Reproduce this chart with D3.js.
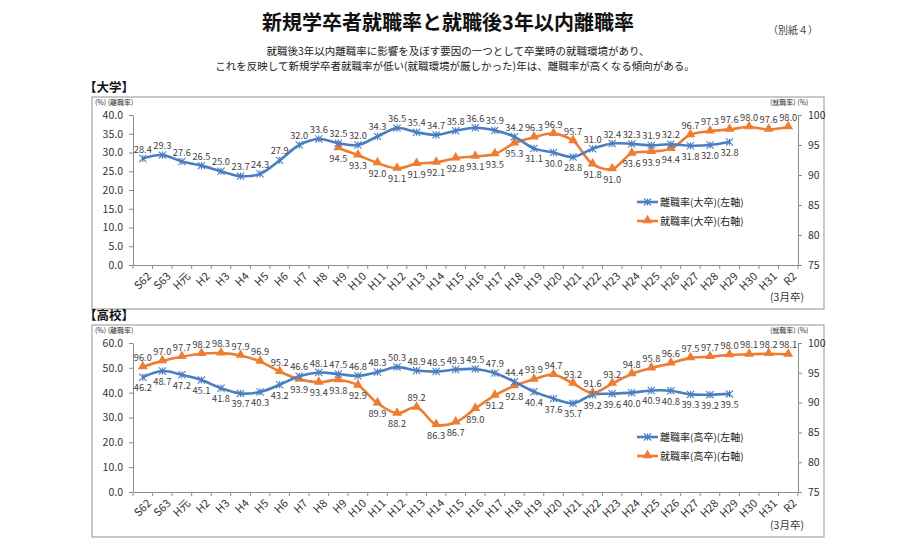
<!DOCTYPE html>
<html><head><meta charset="utf-8">
<script src="https://cdn.jsdelivr.net/npm/d3@7"></script>
<style>
body{margin:0;background:#fff;}
text{font-family:"Noto Sans CJK JP","Noto Sans",sans-serif;}
</style></head>
<body>
<svg id="c" width="907" height="544"></svg>
<script>
// ---- data ----
const categories = ["S62","S63","H元","H2","H3","H4","H5","H6","H7","H8","H9","H10","H11","H12","H13","H14","H15","H16","H17","H18","H19","H20","H21","H22","H23","H24","H25","H26","H27","H28","H29","H30","H31","R2"];
// 大学 離職率 (S62..H29)
const univLeave = [28.4,29.3,27.6,26.5,25.0,23.7,24.3,27.9,32.0,33.6,32.5,32.0,34.3,36.5,35.4,34.7,35.8,36.6,35.9,34.2,31.1,30.0,28.8,31.0,32.4,32.3,31.9,32.2,31.8,32.0,32.8];
// 大学 就職率 (H9..R2)
const univEmployStart = "H9";
const univEmploy = [94.5,93.3,92.0,91.1,91.9,92.1,92.8,93.1,93.5,95.3,96.3,96.9,95.7,91.8,91.0,93.6,93.9,94.4,96.7,97.3,97.6,98.0,97.6,98.0];
// 高校 離職率 (S62..H29)
const hsLeave = [46.2,48.7,47.2,45.1,41.8,39.7,40.3,43.2,46.6,48.1,47.5,46.8,48.3,50.3,48.9,48.5,49.3,49.5,47.9,44.4,40.4,37.6,35.7,39.2,39.6,40.0,40.9,40.8,39.3,39.2,39.5];
// 高校 就職率 (S62..R2)
const hsEmploy = [96.0,97.0,97.7,98.2,98.3,97.9,96.9,95.2,93.9,93.4,93.8,92.9,89.9,88.2,89.2,86.3,86.7,89.0,91.2,92.8,93.9,94.7,93.2,91.6,93.2,94.8,95.8,96.6,97.5,97.7,98.0,98.1,98.2,98.1];
const univLeftTicks = [0,5,10,15,20,25,30,35,40];
const hsLeftTicks = [0,10,20,30,40,50,60];
const rightTicks = [75,80,85,90,95,100];

// label placement (style): categories whose labels go below / above
const univLeaveBelow = ["H19","H20","H21","H27","H28","H29"];
const univEmployAbove = ["H19","H20","H21","H27","H28","H29","H30","H31","R2"];
const hsLeaveAbove = ["H7","H8","H9","H10","H11","H12","H13","H14","H15","H16","H17","H18"];
const hsEmployBelow = ["H7","H8","H9","H10","H11","H12","H14","H15","H16","H17","H18"];

const BLUE = "#4a7ec0", ORANGE = "#ed7d31";
const svg = d3.select("#c");

// header
svg.append("text").attr("x",448).attr("y",30).attr("text-anchor","middle")
  .attr("font-size",20).attr("font-weight",700).attr("fill","#111")
  .text("新規学卒者就職率と就職後3年以内離職率");
svg.append("text").attr("x",768).attr("y",34).attr("font-size",10).attr("fill","#444").text("（別紙４）");
svg.append("text").attr("x",458).attr("y",55).attr("text-anchor","middle").attr("font-size",10.5).attr("fill","#222")
  .text("就職後3年以内離職率に影響を及ぼす要因の一つとして卒業時の就職環境があり、");
svg.append("text").attr("x",455).attr("y",70).attr("text-anchor","middle").attr("font-size",10.5).attr("fill","#222")
  .text("これを反映して新規学卒者就職率が低い(就職環境が厳しかった)年は、離職率が高くなる傾向がある。");

function drawChart(cfg){
  const g = svg.append("g");
  g.append("text").attr("x",84).attr("y",cfg.top-5).attr("font-size",12.5).attr("font-weight",700).attr("fill","#111").text(cfg.title);
  g.append("rect").attr("x",92).attr("y",cfg.top).attr("width",732).attr("height",cfg.h)
    .attr("fill","none").attr("stroke","#a6a6a6").attr("stroke-width",1.2);

  const x = d3.scaleBand().domain(categories).range([133,798]);
  const yL = d3.scaleLinear().domain(cfg.leftDomain).range([cfg.y0,cfg.y1]);
  const yR = d3.scaleLinear().domain([75,100]).range([cfg.y0,cfg.y1]);
  const cx = c => x(c)+x.bandwidth()/2;

  const axL = g.append("g").attr("transform",`translate(133,0)`)
    .call(d3.axisLeft(yL).tickValues(cfg.leftTicks).tickFormat(d3.format(".1f")).tickSize(4).tickSizeOuter(0));
  const axR = g.append("g").attr("transform",`translate(798,0)`)
    .call(d3.axisRight(yR).tickValues(rightTicks).tickSize(4).tickSizeOuter(0));
  const axB = g.append("g").attr("transform",`translate(0,${cfg.y0})`)
    .call(d3.axisBottom(x).tickSize(0).tickSizeOuter(0));
  [axL,axR,axB].forEach(a=>{
    a.selectAll("path,line").attr("stroke","#8c8c8c");
    a.selectAll("text").attr("font-size",10.5).attr("fill","#333").attr("font-family",'"Noto Sans CJK JP",sans-serif');
  });
  axL.selectAll("text").attr("dx",-3);
  axR.selectAll("text").attr("dx",3);
  axB.selectAll("text").attr("text-anchor","end").attr("transform","rotate(-45)")
    .attr("font-size",11).attr("dx",-2).attr("dy",9).attr("y",6).attr("x",0);
  // boundary ticks
  g.append("g").selectAll("line").data(categories.concat(["__end"])).join("line")
    .attr("x1",d=>d==="__end"?798:x(d)).attr("x2",d=>d==="__end"?798:x(d))
    .attr("y1",cfg.y0).attr("y2",cfg.y0+4).attr("stroke","#8c8c8c");

  g.append("text").attr("x",95).attr("y",cfg.top+8).attr("font-size",7).attr("fill","#333").text("(%) (離職率)");
  g.append("text").attr("x",770).attr("y",cfg.top+8).attr("font-size",7).attr("fill","#333").text("(就職率) (%)");
  g.append("text").attr("x",770).attr("y",cfg.top+cfg.h-8).attr("font-size",10.5).attr("fill","#333").text("(3月卒)");

  const leave = cfg.leave.map((v,i)=>({c:categories[i],v}));
  const startIdx = categories.indexOf(cfg.employStart);
  const employ = cfg.employ.map((v,i)=>({c:categories[startIdx+i],v}));

  const lineL = d3.line().x(d=>cx(d.c)).y(d=>yL(d.v)).curve(d3.curveCatmullRom.alpha(0.5));
  const lineR = d3.line().x(d=>cx(d.c)).y(d=>yR(d.v)).curve(d3.curveCatmullRom.alpha(0.5));

  g.append("path").datum(employ).attr("d",lineR).attr("fill","none").attr("stroke",ORANGE).attr("stroke-width",2.6);
  g.append("path").datum(leave).attr("d",lineL).attr("fill","none").attr("stroke",BLUE).attr("stroke-width",2.6);

  const tri = d3.symbol().type(d3.symbolTriangle).size(42);
  g.append("g").selectAll("path").data(employ).join("path")
    .attr("d",tri).attr("transform",d=>`translate(${cx(d.c)},${yR(d.v)-0.5})`).attr("fill",ORANGE);
  g.append("g").selectAll("path").data(leave).join("path")
    .attr("d",d=>{const X=cx(d.c),Y=yL(d.v),s=3.6;return `M${X-s},${Y-s}L${X+s},${Y+s}M${X-s},${Y+s}L${X+s},${Y-s}M${X},${Y-s}L${X},${Y+s}`;})
    .attr("stroke",BLUE).attr("stroke-width",1.1).attr("fill","none");

  const lab = (data,scale,isBelow) => g.append("g").selectAll("text").data(data).join("text")
    .attr("x",d=>cx(d.c)).attr("y",d=>isBelow(d.c)?scale(d.v)+14:scale(d.v)-6)
    .attr("text-anchor","middle").attr("font-size",9.3).attr("fill","#404040")
    .text(d=>d.v.toFixed(1));
  lab(leave,yL,cfg.leaveBelow);
  lab(employ,yR,cfg.employBelow);

  // legend
  const lg = g.append("g");
  [[cfg.leg1,BLUE,"x"],[cfg.leg2,ORANGE,"t"]].forEach((r,i)=>{
    const yy = cfg.legY + i*19;
    lg.append("line").attr("x1",637).attr("x2",658).attr("y1",yy).attr("y2",yy).attr("stroke",r[1]).attr("stroke-width",2.6);
    if(r[2]==="x") lg.append("path").attr("d",`M644,${yy-3.5}L651,${yy+3.5}M644,${yy+3.5}L651,${yy-3.5}M647.5,${yy-3.5}L647.5,${yy+3.5}`).attr("stroke",r[1]).attr("stroke-width",1.1);
    else lg.append("path").attr("d",tri).attr("transform",`translate(647.5,${yy-0.5})`).attr("fill",r[1]);
    lg.append("text").attr("x",660).attr("y",yy+3.5).attr("font-size",10).attr("fill","#222").text(r[0]);
  });
}

drawChart({title:"【大学】",top:97,h:212,y0:265,y1:115,leftDomain:[0,40],leftTicks:univLeftTicks,
  leave:univLeave,employ:univEmploy,employStart:univEmployStart,
  leaveBelow:c=>univLeaveBelow.includes(c),employBelow:c=>!univEmployAbove.includes(c),
  leg1:"離職率(大卒)(左軸)",leg2:"就職率(大卒)(右軸)",legY:202});
drawChart({title:"【高校】",top:325,h:212,y0:492,y1:343,leftDomain:[0,60],leftTicks:hsLeftTicks,
  leave:hsLeave,employ:hsEmploy,employStart:"S62",
  leaveBelow:c=>!hsLeaveAbove.includes(c),employBelow:c=>hsEmployBelow.includes(c),
  leg1:"離職率(高卒)(左軸)",leg2:"就職率(高卒)(右軸)",legY:437});
</script>
</body></html>
